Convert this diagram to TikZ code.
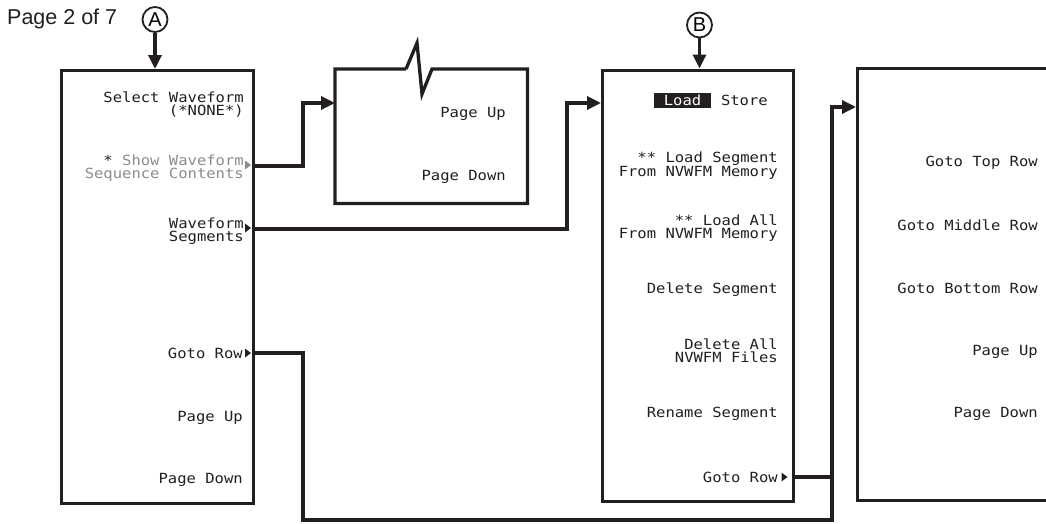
\documentclass[tikz,border=0pt]{standalone}
\usepackage{fontspec}
\setmainfont{Liberation Sans}
\newfontfamily\disp[FakeStretch=1.11]{DejaVu Sans Mono}
\usetikzlibrary{arrows.meta}
\definecolor{ink}{RGB}{35,31,32}
\definecolor{dim}{RGB}{140,140,140}
\tikzset{
  menubox/.style={draw=ink, line width=3.3pt, anchor=north west, inner sep=0pt},
  menutext/.style={font=\disp\fontsize{14}{13}\selectfont, align=right, anchor=east, inner sep=0pt, text=ink},
  conn/.style={draw=ink, line width=3.3pt, -{Triangle[length=14pt,width=13pt]}},
  wire/.style={draw=ink, line width=3.3pt},
  label/.style={draw=ink, line width=1.8pt, circle, minimum size=25pt, inner sep=0pt, font=\fontsize{20}{20}\selectfont},
  subtri/.pic={\fill[#1] (0,-4.5) -- (6,0) -- (0,4.5) -- cycle;},
}
\begin{document}
\begin{tikzpicture}[x=1pt,y=-1pt]
\clip (0,0) rectangle (1046,523);
\fill[white] (0,0) rectangle (1046,523);

% page label
\node[anchor=west, inner sep=0pt, font=\fontsize{21.5}{22}\selectfont, text=ink] (page) at (7,19) {Page 2 of 7};

% box A
\node[menubox, minimum width=192pt, minimum height=433pt] (boxA) at (60,69) {};
\node[label] (cA) at (155,19.5) {A};
\draw[conn] (cA.south) -- (cA.south |- boxA.north);
\node[menutext] (tA1) at (244,104.5) {Select Waveform\\(*NONE*)};
\node[menutext] (tA2) at (244,168.5) {{\color{ink}*}\ \textcolor{dim}{Show Waveform}\\\textcolor{dim}{Sequence Contents}};
\node[menutext] (tA3) at (244,231.5) {Waveform\\Segments};
\node[menutext] (tA4) at (243,353) {Goto Row};
\node[menutext] (tA5) at (243,418) {Page Up};
\node[menutext] (tA6) at (243,480) {Page Down};
\pic at (245,165) {subtri=dim};
\pic at (245,228) {subtri=ink};
\pic at (245,353) {subtri=ink};

% box 2 (broken top)
\node[minimum width=192pt, minimum height=134pt, anchor=north west, inner sep=0pt] (box2) at (335,69) {};
\draw[wire, line join=miter] (406,69) -- (box2.north west) -- (box2.south west) -- (box2.south east) -- (box2.north east) -- (432,69) -- (422,94) -- (417,43) -- (406,69);
\node[menutext] (t21) at (506,114) {Page Up};
\node[menutext] (t22) at (506,177) {Page Down};

% box B
\node[menubox, minimum width=191pt, minimum height=431pt] (boxB) at (601,68.5) {};
\node[label] (cB) at (699.5,25) {B};
\draw[conn] (cB.south) -- (cB.south |- boxB.north);
\node[fill=ink, text=white, font=\disp\fontsize{14}{13}\selectfont, inner xsep=9.5pt, inner ysep=2.5pt, anchor=east] (load) at (711,100.5) {Load};
\node[menutext] (tB0) at (768,100.5) {Store};
\node[menutext] (tB1) at (778,165.5) {** Load Segment\\From NVWFM Memory};
\node[menutext] (tB2) at (778,228.5) {** Load All\\From NVWFM Memory};
\node[menutext] (tB3) at (778,290) {Delete Segment};
\node[menutext] (tB4) at (778,350.5) {Delete All\\NVWFM Files};
\node[menutext] (tB5) at (778,414) {Rename Segment};
\node[menutext] (tB6) at (778,477) {Goto Row};
\pic at (781.5,477) {subtri=ink};

% box C
\node[menubox, minimum width=200pt, minimum height=432pt] (boxC) at (856,67) {};
\node[menutext] (tC1) at (1038,163) {Goto Top Row};
\node[menutext] (tC2) at (1038,225) {Goto Middle Row};
\node[menutext] (tC3) at (1038,288) {Goto Bottom Row};
\node[menutext] (tC4) at (1038,352) {Page Up};
\node[menutext] (tC5) at (1038,414) {Page Down};

% connector ports and bends
\coordinate (pShow) at (252,166);
\coordinate (pSeg) at (252,229);
\coordinate (pGotoA) at (252,353);
\coordinate (pGotoB) at (792,477);
\coordinate (bend1) at (303,103);
\coordinate (bend2) at (567,103);
\coordinate (bend3a) at (303,520);
\coordinate (bend3b) at (832,107);

\draw[conn] (pShow) -| (bend1) -- (box2.west |- bend1);
\draw[conn] (pSeg) -| (bend2) -- (boxB.west |- bend2);
\draw[conn] (pGotoA) -| (bend3a) -| (bend3b) -- (boxC.west |- bend3b);
\draw[wire] (pGotoB) -- (pGotoB -| bend3b);
\end{tikzpicture}
\end{document}
